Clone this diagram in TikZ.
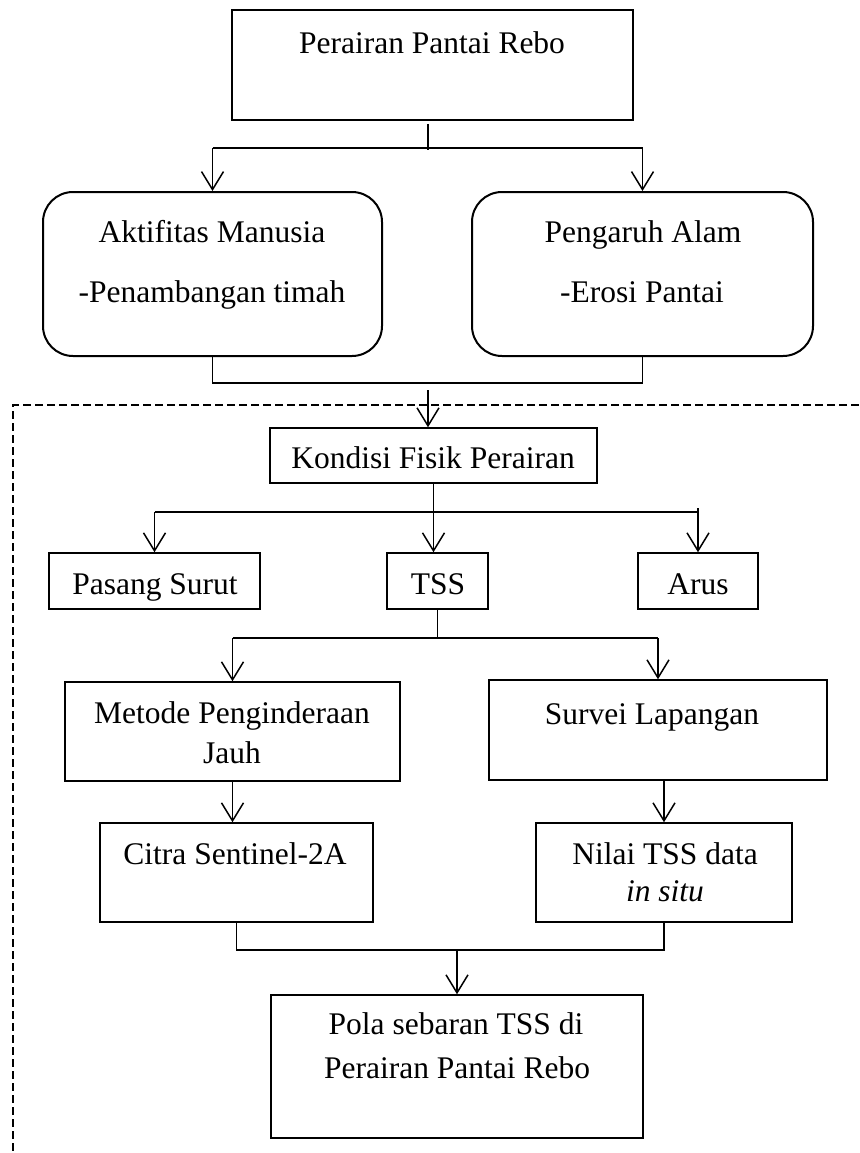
\documentclass[tikz,border=0pt]{standalone}
\usepackage{fontspec}
\setmainfont{Liberation Serif}
\usetikzlibrary{arrows.meta}
\begin{document}
\begin{tikzpicture}[x=1pt,y=-1pt,
  box/.style={draw, line width=1.5pt, inner sep=0pt},
  topbox/.style={box, line width=2.5pt},
  rbox/.style={box, line width=2pt, rounded corners=30pt},
  txt/.style={inner sep=0pt, font=\fontsize{31.5}{38}\selectfont, text height=21pt, text depth=0pt},
  conn/.style={line width=1.5pt},
  arr/.style={conn, -{Straight Barb[length=18pt,width=22pt]}},
  dashline/.style={line width=1.5pt, dash pattern=on 8pt off 4pt}
]
\useasboundingbox (0,0) rectangle (859,1153);
% boxes
\node[topbox, minimum width=401pt, minimum height=110pt] (top) at (432.5,65) {};
\node[rbox, minimum width=339pt, minimum height=164pt] (ak) at (212.5,274) {};
\node[rbox, minimum width=341pt, minimum height=164pt] (pe) at (642.5,274) {};
\node[box, minimum width=327pt, minimum height=55pt] (ko) at (433.5,455.5) {};
\node[box, minimum width=211pt, minimum height=56pt] (pa) at (154.5,581) {};
\node[box, minimum width=101pt, minimum height=56pt] (tss) at (437.5,581) {};
\node[box, minimum width=120pt, minimum height=56pt] (arus) at (698,581) {};
\node[box, minimum width=335pt, minimum height=99pt] (me) at (232.5,731.5) {};
\node[box, minimum width=338pt, minimum height=100pt] (su) at (658,730) {};
\node[box, minimum width=273pt, minimum height=99pt] (ci) at (236.5,872.5) {};
\node[box, minimum width=256pt, minimum height=99pt] (ni) at (664,872.5) {};
\node[box, minimum width=372pt, minimum height=143pt] (po) at (457,1066.5) {};
% texts
\node[txt] (tTop) at (432,43) {Perairan Pantai Rebo};
\node[txt] (tAk1) at (212,232) {Aktifitas Manusia};
\node[txt] (tAk2) at (212,292) {-Penambangan timah};
\node[txt] (tPe1) at (643,232) {Pengaruh Alam};
\node[txt] (tPe2) at (642,292) {-Erosi Pantai};
\node[txt] (tKo) at (433,458) {Kondisi Fisik Perairan};
\node[txt] (tPa) at (155,584) {Pasang Surut};
\node[txt] (tTss) at (438,584) {TSS};
\node[txt] (tArus) at (698,584) {Arus};
\node[txt] (tMe1) at (232,713) {Metode Penginderaan};
\node[txt] (tMe2) at (232,753) {Jauh};
\node[txt] (tSu) at (652,714) {Survei Lapangan};
\node[txt] (tCi) at (235,854) {Citra Sentinel-2A};
\node[txt] (tNi1) at (665,854) {Nilai TSS data};
\node[txt] (tNi2) at (665,891) {\itshape in situ};
\node[txt] (tPo1) at (456,1024) {Pola sebaran TSS di};
\node[txt] (tPo2) at (457,1068) {Perairan Pantai Rebo};
% helper coordinates
\coordinate (s1) at (428,124);
\coordinate (h1) at (0,148);
\coordinate (h2) at (0,383);
\coordinate (a2) at (428,390);
\coordinate (h3) at (0,512);
\coordinate (h4) at (0,638);
\coordinate (h5) at (0,950);
\coordinate (d1) at (859,405);
\coordinate (d2) at (13,405);
\coordinate (d3) at (13,1153);
% connectors
\draw[conn] (s1) -- ([yshift=-2pt]s1 |- h1);
\draw[conn] (ak.north |- h1) -- (pe.north |- h1);
\draw[arr] (ak.north |- h1) -- (ak.north);
\draw[arr] (pe.north |- h1) -- (pe.north);
\draw[conn] (ak.south) -- (ak.south |- h2) -- (pe.south |- h2) -- (pe.south);
\draw[arr] (a2) -- (a2 |- ko.north);
\draw[arr] (ko.south) -- (ko.south |- tss.north);
\draw[conn] (pa.north |- h3) -- (arus.north |- h3);
\draw[arr] (pa.north |- h3) -- (pa.north);
\draw[arr] ([yshift=4pt]arus.north |- h3) -- (arus.north);
\draw[conn] (tss.south) -- (tss.south |- h4);
\draw[conn] (me.north |- h4) -- (su.north |- h4);
\draw[arr] (me.north |- h4) -- (me.north);
\draw[arr] (su.north |- h4) -- (su.north);
\draw[arr] (me.south) -- (me.south |- ci.north);
\draw[arr] (ni.north |- su.south) -- (ni.north);
\draw[conn] (ci.south) -- (ci.south |- h5) -- (ni.south |- h5) -- (ni.south);
\draw[arr] (po.north |- h5) -- (po.north);
\draw[dashline] (d1) -- (d2) -- (d3);
\end{tikzpicture}
\end{document}
